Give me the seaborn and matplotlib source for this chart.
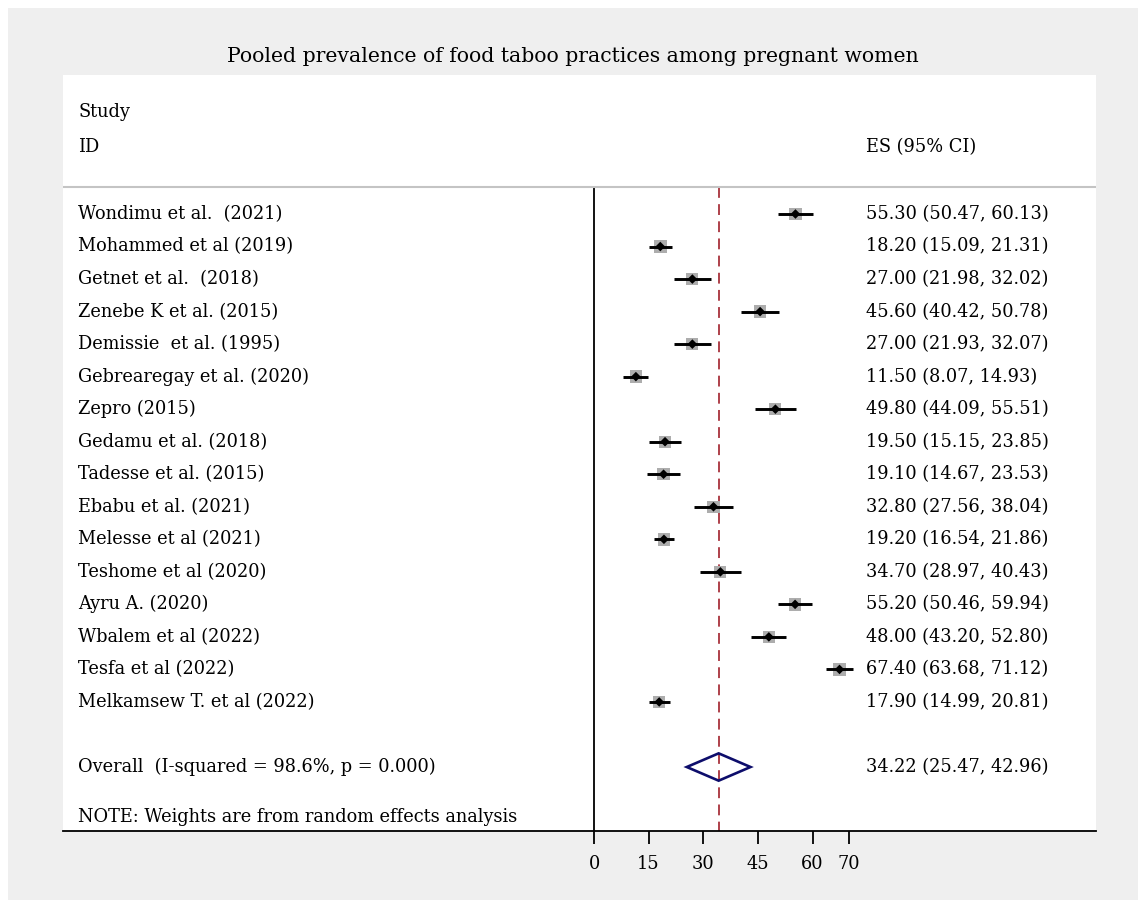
import matplotlib
matplotlib.use("Agg")
import matplotlib.pyplot as plt
import matplotlib.transforms as mtrans
from matplotlib.patches import Rectangle, Polygon
import seaborn as sns
import pandas as pd

studies = ["Wondimu et al.  (2021)", "Mohammed et al (2019)", "Getnet et al.  (2018)",
           "Zenebe K et al. (2015)", "Demissie  et al. (1995)", "Gebrearegay et al. (2020)",
           "Zepro (2015)", "Gedamu et al. (2018)", "Tadesse et al. (2015)", "Ebabu et al. (2021)",
           "Melesse et al (2021)", "Teshome et al (2020)", "Ayru A. (2020)", "Wbalem et al (2022)",
           "Tesfa et al (2022)", "Melkamsew T. et al (2022)"]
es = [55.30, 18.20, 27.00, 45.60, 27.00, 11.50, 49.80, 19.50, 19.10, 32.80, 19.20, 34.70, 55.20, 48.00, 67.40, 17.90]
lo = [50.47, 15.09, 21.98, 40.42, 21.93, 8.07, 44.09, 15.15, 14.67, 27.56, 16.54, 28.97, 50.46, 43.20, 63.68, 14.99]
hi = [60.13, 21.31, 32.02, 50.78, 32.07, 14.93, 55.51, 23.85, 23.53, 38.04, 21.86, 40.43, 59.94, 52.80, 71.12, 20.81]
weights = [6.24, 6.28, 6.23, 6.24, 6.23, 6.29, 6.21, 6.25, 6.25, 6.23, 6.29, 6.21, 6.24, 6.25, 6.27, 6.28]
overall_label = "Overall  (I-squared = 98.6%, p = 0.000)"
overall_es, overall_lo, overall_hi = 34.22, 25.47, 42.96
xticks = [0, 15, 30, 45, 60, 70]
title = "Pooled prevalence of food taboo practices among pregnant women"
note = "NOTE: Weights are from random effects analysis"

sns.set_style("white")
plt.rcParams["font.family"] = ["DejaVu Serif"]
plt.rcParams["text.color"] = "black"
plt.rcParams["xtick.color"] = "black"

W, H = 1146, 908
fig = plt.figure(figsize=(W / 100, H / 100), dpi=100, facecolor="white")
bg = Rectangle((8 / W, 8 / H), (W - 16) / W, (H - 16) / H,
               transform=fig.transFigure, facecolor="#efefef", edgecolor="none", zorder=-10)
fig.patches.append(bg)

L, R, T, B = 63, 1096, 75, 831
ax = fig.add_axes([L / W, (H - B) / H, (R - L) / W, (B - T) / H])
ax.set_zorder(1)
ax.set_facecolor("white")

px_per_unit = (849 - 594) / 70.0
ax.set_xlim((L - 594) / px_per_unit, (R - 594) / px_per_unit)
row_px = 32.53
ybot = 1 + (B - 214) / row_px
ax.set_ylim(ybot, 1 + (T - 214) / row_px)

df = pd.DataFrame({"study": studies, "es": es, "lo": lo, "hi": hi, "w": weights,
                   "row": list(range(1, len(studies) + 1))})

header_y = 1 + (187 - 214) / row_px
overall_row = 18

# reference lines
ax.plot([0, 0], [header_y, ybot], color="black", lw=1.3, zorder=1)
ax.plot([overall_es, overall_es], [header_y, ybot], color="#a8323c",
        lw=1.3, ls=(0, (6, 3.5)), zorder=1)
ax.axhline(header_y, color="#c4c4c4", lw=1.5, zorder=1)

# squares
sns.scatterplot(data=df, x="es", y="row", size="w", sizes=(76, 82), marker="s",
                color="#adadad", edgecolor="none", legend=False, ax=ax, zorder=2)
# CI lines
ax.hlines(df["row"], df["lo"], df["hi"], color="black", lw=2.1, zorder=3)
# point estimates
sns.scatterplot(data=df, x="es", y="row", marker="D", s=24, color="black",
                edgecolor="none", legend=False, ax=ax, zorder=4)

# overall diamond
dh = 0.42
ax.add_patch(Polygon([(overall_lo, overall_row), (overall_es, overall_row - dh),
                      (overall_hi, overall_row), (overall_es, overall_row + dh)],
                     closed=True, facecolor="none", edgecolor="#0d0d6b", lw=1.9, zorder=5))

fs = 12.8
trans = mtrans.blended_transform_factory(ax.transAxes, ax.transData)
xl = (78 - L) / (R - L)
xr = (866 - L) / (R - L)
for i, r in df.iterrows():
    ax.text(xl, r["row"], r["study"], transform=trans, ha="left", va="center", fontsize=fs)
    ax.text(xr, r["row"], f"{r['es']:.2f} ({r['lo']:.2f}, {r['hi']:.2f})", transform=trans,
            ha="left", va="center", fontsize=fs)
ax.text(xl, overall_row, overall_label, transform=trans, ha="left", va="center", fontsize=fs)
ax.text(xr, overall_row, f"{overall_es:.2f} ({overall_lo:.2f}, {overall_hi:.2f})",
        transform=trans, ha="left", va="center", fontsize=fs)
ax.text(xl, 1 + (112 - 214) / row_px, "Study", transform=trans, ha="left", va="center", fontsize=fs)
ax.text(xl, 1 + (147 - 214) / row_px, "ID", transform=trans, ha="left", va="center", fontsize=fs)
ax.text(xr, 1 + (147 - 214) / row_px, "ES (95% CI)", transform=trans, ha="left", va="center", fontsize=fs)
ax.text(xl, 1 + (817 - 214) / row_px, note, transform=trans, ha="left", va="center", fontsize=fs)

fig.text(0.5, 1 - 57 / H, title, ha="center", va="center", fontsize=14.7)

for s in ["top", "left", "right"]:
    ax.spines[s].set_visible(False)
ax.spines["bottom"].set_color("black")
ax.spines["bottom"].set_linewidth(1.3)
ax.set_xticks(xticks)
ax.set_xticklabels([str(t) for t in xticks])
ax.tick_params(axis="x", direction="out", length=9, width=1.3, color="black",
               pad=8, labelsize=fs, bottom=True)
ax.set_yticks([])
ax.set_xlabel("")
ax.set_ylabel("")

fig.savefig("out.png", dpi=100, facecolor=fig.get_facecolor())
